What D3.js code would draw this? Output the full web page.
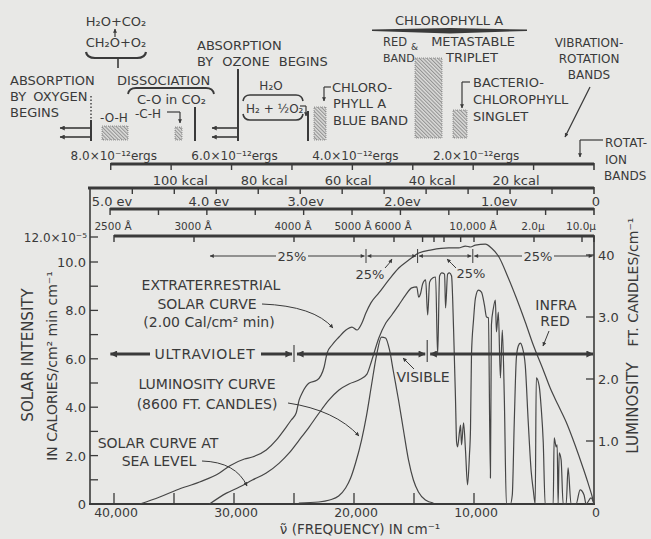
<!DOCTYPE html>
<html><head><meta charset="utf-8">
<script src="https://cdn.jsdelivr.net/npm/d3@7/dist/d3.min.js"></script>
<style>
html,body{margin:0;padding:0;background:#e8e8e6;}
svg{display:block}
text{font-family:"DejaVu Sans",Verdana,sans-serif;fill:#3a3a3a}
</style></head><body>
<svg id="chart" width="651" height="539"></svg>
<script>
// ---------------- DATA ----------------
// Extraterrestrial solar curve: wavenumber (cm^-1) and intensity (10^-5 cal/cm^2 min cm^-1)
const extraNu = [37850,36190,34780,32870,31210,30380,29130,28470,27310,26480,25650,25230,24820,24570,24320,23740,23070,22490,22240,21830,21250,20670,20170,19750,19340,19010,18590,17930,17100,16270,15440,14610,13530,12120,11290,10710,10290,9880,9050,8550,7970,7140,6470,5730,5060,4230,3650,2990,2320,1580,910,500,80,0];
const extraI  = [0,0.29,0.58,0.91,1.28,1.57,1.86,1.94,2.23,2.64,3.18,3.47,3.76,4.30,4.59,5.00,5.12,5.66,6.24,6.57,6.90,7.19,7.31,7.19,7.48,7.89,8.31,8.72,9.26,9.75,10.08,10.37,10.50,10.58,10.58,10.66,10.62,10.70,10.74,10.58,10.25,9.34,8.51,7.52,6.57,5.54,4.79,4.09,3.39,2.44,1.49,0.87,0.17,0];
// Solar curve at sea level
const seaNu = [32040,30630,29550,28470,27310,26230,25400,24570,23740,22910,22080,21250,20420,19590,18920,18510,17930,17350,16850,16270,15690,15190,14770,14610,14440,14280,14030,13860,13700,13450,13200,13030,12870,12700,12450,12370,12200,12040,11870,11700,11540,11450,11370,11210,11120,11040,10870,10710,10540,10380,10290,10210,10040,9880,9630,9380,9130,8960,8800,8630,8550,8380,8220,8130,7970,7800,7640,7470,7300,6970,6810,6640,6470,6310,6140,5980,5730,5480,5230,5060,4900,4810,4570,4400,4230,4070,3400,3320,3150,3070,2990,2900,2740,2570,2320,2160,1910,1490,1160,830,660,250,0];
const seaI  = [0,0.45,0.70,0.99,1.28,1.69,2.11,2.64,3.18,3.76,4.30,4.71,4.96,5.12,5.37,5.95,6.86,7.48,7.81,8.22,8.64,8.93,8.97,8.55,8.72,9.09,9.26,7.81,9.17,9.34,9.38,6.16,9.42,9.55,9.50,8.10,9.50,9.55,9.42,7.19,4.30,2.56,2.36,2.98,3.26,2.44,3.35,2.23,0.79,2.02,3.14,6.16,7.60,8.51,8.84,8.76,8.22,7.73,7.69,1.07,7.40,8.10,8.43,7.11,7.93,5.21,7.19,4.30,0,0,0.37,3.47,6.03,6.53,6.65,6.49,5.74,3.39,1.32,0.58,0,5.21,4.88,3.97,2.56,0,0,2.73,2.36,2.44,0,2.11,1.82,0,0,1.49,0,0,0.58,0.37,0,0.25,0];
// Luminosity curve (ft. candles / cm^-1)
const lumNu = [24600,22940,22030,21280,20700,20280,19870,19370,18950,18540,18120,17710,17370,17040,16710,16290,15880,15460,15050,14630,14050,13380];
const lumV  = [0,0.16,0.48,1.13,2.42,4.03,6.45,10.16,14.19,19.03,23.87,26.77,26.61,24.68,21.13,16.61,11.77,6.94,3.71,1.77,0.48,0];

// Axis ticks and labels
const freqTicks = [40000,35000,30000,25000,20000,15000,10000];
const freqLabelVals = [40000,30000,20000,10000,0];
const freqLabels = ["40,000","30,000","20,000","10,000","0"];
const intensityTicks = [1,2,3,4,5,6,7,8,9,10];
const intensityLabelVals = [0,2,4,6,8,10];
const intensityLabels = ["0","2.0","4.0","6.0","8.0","10.0"];
const lumTicks = [10,20,30,40];
const lumLabels = ["1.0","2.0","3.0","40"];

// Top energy / wavelength scales
const ergsTicks = [8,7,6,5,4,3,2,1];
const ergsLabelVals = [8,6,4,2];
const ergsLabels = ["8.0×10⁻¹²ergs","6.0×10⁻¹²ergs","4.0×10⁻¹²ergs","2.0×10⁻¹²ergs"];
const kcalTicks = [110,100,90,80,70,60,50,40,30,20,10];
const kcalLabelVals = [100,80,60,40,20];
const kcalLabels = ["100 kcal","80 kcal","60 kcal","40 kcal","20 kcal"];
const evTicks = [5,4.5,4,3.5,3,2.5,2,1.5,1,0.5];
const evLabelVals = [5,4,3,2,1,0];
const evLabels = ["5.0 ev","4.0 ev","3.0ev","2.0ev","1.0ev","0"];
const angTicks = [2500,3000,4000,5000,6000,7000,7500,8000,9000,10000,20000,100000];
const angLabelVals = [2500,3000,4000,5000,6000,10000,20000,100000];
const angLabels = ["2500 Å","3000 Å","4000 Å","5000 Å","6000 Å","10,000 Å","2.0μ","10.0μ"];

// Quartiles of solar energy and spectral regions
const quartileBounds = [32000,19000,14700,10100,0];
const regionNames = ["ULTRAVIOLET","VISIBLE","INFRA RED"];
const regionBounds = [40300,25000,13900,0];

// unit conversions to wavenumber
const ergToNu = v => v*5034.1;      // 1e-12 erg -> cm^-1
const kcalToNu = v => v*349.76;     // kcal/mol -> cm^-1
const evToNu = v => v*8065.5;       // eV -> cm^-1
const angToNu = v => 1e8/v;         // Angstrom -> cm^-1

// ---------------- DRAWING ----------------
const BG="#e8e8e6", INK="#3a3a3a", CURVE="#464646";
const svg=d3.select("#chart");
svg.append("rect").attr("width",651).attr("height",539).attr("fill",BG);
const defs=svg.append("defs");
function marker(id,w,h){
  defs.append("marker").attr("id",id).attr("viewBox","0 0 10 10").attr("refX",9.5).attr("refY",5)
    .attr("markerWidth",w).attr("markerHeight",h).attr("markerUnits","userSpaceOnUse")
    .attr("orient","auto-start-reverse")
    .append("path").attr("d","M0,0L10,5L0,10Z").attr("fill",INK);
}
marker("big",11,7); marker("mid",8,5); marker("sm",6,4);
const pat=defs.append("pattern").attr("id","hatch").attr("patternUnits","userSpaceOnUse")
  .attr("width",2.6).attr("height",2.6).attr("patternTransform","rotate(-45)");
pat.append("rect").attr("width",2.6).attr("height",2.6).attr("fill","#dcdcda");
pat.append("line").attr("x1",0.6).attr("y1",0).attr("x2",0.6).attr("y2",2.6).attr("stroke","#6a6a6a").attr("stroke-width",0.7);

const x=d3.scaleLinear().domain([42000,0]).range([90,594]);
const y=d3.scaleLinear().domain([0,10]).range([504,262]);
const yLum=d3.scaleLinear().domain([0,40]).range([503,255]);

function txt(px,py,s,size,anchor){
  return svg.append("text").attr("x",px).attr("y",py).attr("font-size",size||13)
    .attr("text-anchor",anchor||"start").text(s);
}
function seg(x1,y1,x2,y2,w,me,ms){
  const l=svg.append("line").attr("x1",x1).attr("y1",y1).attr("x2",x2).attr("y2",y2)
    .attr("stroke",INK).attr("stroke-width",w||1.3);
  if(me) l.attr("marker-end","url(#"+me+")");
  if(ms) l.attr("marker-start","url(#"+ms+")");
  return l;
}
function pth(d,w,me,ms){
  const p=svg.append("path").attr("d",d).attr("fill","none").attr("stroke",INK).attr("stroke-width",w||1.3);
  if(me) p.attr("marker-end","url(#"+me+")");
  if(ms) p.attr("marker-start","url(#"+ms+")");
  return p;
}
function hatchRect(rx,ry,w,h){
  svg.append("rect").attr("x",rx).attr("y",ry).attr("width",w).attr("height",h)
    .attr("fill","url(#hatch)").attr("stroke","#777").attr("stroke-width",0.7).attr("stroke-dasharray","1,1");
}
function bgRect(rx,ry,w,h){
  svg.append("rect").attr("x",rx).attr("y",ry).attr("width",w).attr("height",h).attr("fill",BG);
}

// ---- top scales ----
function scaleBar(yy,x0,ticks,conv,labelVals,labels,labelY,dx,size){
  seg(x0,yy,594,yy,3);
  ticks.forEach(v=>{const xx=x(conv(v)); seg(xx,yy-1,xx,yy+6,1.4);});
  seg(594,yy-1,594,yy+6,1.6);
  labelVals.forEach((v,i)=>txt(x(conv(v))+dx,labelY,labels[i],size,"middle"));
}
scaleBar(164,x(ergToNu(8)),ergsTicks,ergToNu,ergsLabelVals,ergsLabels,160,3,12);
scaleBar(188,88,kcalTicks,kcalToNu,kcalLabelVals,kcalLabels,185,6,13);
scaleBar(209,x(evToNu(5)),evTicks,evToNu,evLabelVals,evLabels,206,2,13);
scaleBar(236,x(angToNu(2500)),angTicks,angToNu,angLabelVals,angLabels,230,-1,10.5);

// ---- frame and axes ----
seg(90,188,90,504,1.6);
seg(89,504,595,504,1.8);
seg(594,236,594,504,1.6);
intensityTicks.forEach(v=>seg(90,y(v),98,y(v),1.3));
seg(90,237,98,237,1.3);
intensityLabelVals.forEach((v,i)=>txt(86,y(v)+5,intensityLabels[i],13,"end"));
txt(87,242,"12.0×10⁻⁵",12,"end");
freqTicks.forEach(v=>seg(x(v),504,x(v),493,1.3));
freqLabelVals.forEach((v,i)=>txt(x(v)+2,517,freqLabels[i],12.5,"middle"));
lumTicks.forEach(v=>seg(586,yLum(v),594,yLum(v),1.3));
lumTicks.forEach((v,i)=>txt(598,yLum(v)+5,lumLabels[i],13,"start"));

// axis titles
txt(0,0,"SOLAR INTENSITY",15,"middle").attr("transform","translate(33,355) rotate(-90)");
txt(0,0,"IN CALORIES/cm² min cm⁻¹",14,"middle").attr("transform","translate(57,366) rotate(-90)");
txt(0,0,"LUMINOSITY",15,"middle").attr("transform","translate(638,408) rotate(-90)");
txt(0,0,"FT. CANDLES/cm⁻¹",14,"middle").attr("transform","translate(638,282) rotate(-90)");
txt(360,534,"\u03BD\u0303 (FREQUENCY) IN cm⁻¹",13.5,"middle");

// ---- curves ----
const lineI=d3.line().x(d=>x(d[0])).y(d=>y(d[1])).curve(d3.curveMonotoneX);
const lineL=d3.line().x(d=>x(d[0])).y(d=>yLum(d[1])).curve(d3.curveMonotoneX);
const extra=extraNu.map((v,i)=>[v,extraI[i]]);
const sea=seaNu.map((v,i)=>[v,seaI[i]]);
const lum=lumNu.map((v,i)=>[v,lumV[i]]);
[[extra,lineI],[sea,lineI],[lum,lineL]].forEach(([d,g])=>{
  svg.append("path").datum(d).attr("d",g).attr("fill","none").attr("stroke",CURVE).attr("stroke-width",1.2).attr("stroke-linejoin","round");
});

// ---- quartile dimension line ----
const qY=256;
const qx=quartileBounds.map(v=>x(v));
for(let i=0;i<4;i++){
  seg(qx[i]+(i?1.5:0),qY,qx[i+1]-1.5,qY,1,"sm","sm");
}
for(let i=1;i<4;i++) seg(qx[i],qY-7,qx[i],qY+7,1);
bgRect(276,249,32,14); txt(292,261,"25%",13,"middle");
bgRect(522,249,32,14); txt(538,261,"25%",13,"middle");
txt(370,279,"25%",13,"middle"); pth("M385,268 Q389,264 392,259",1,"sm");
txt(471,278,"25%",13,"middle"); pth("M456,268 Q451,263 447,259",1,"sm");

// ---- spectral regions ----
const rY=354;
const rx=regionBounds.map(v=>x(v));
seg(rx[0],rY,rx[1]-2,rY,3.2,"big","big");
seg(rx[1]+3,rY,rx[2]-2,rY,3.2,"big","big");
seg(rx[2]+3,rY,rx[3]-1,rY,3.2,"big","big");
seg(rx[1],rY-9,rx[1],rY+8,1.1);
seg(rx[2],rY-14,rx[2],rY+8,1.1);
bgRect(150,346,111,16); txt(205,359,regionNames[0],14,"middle").attr("letter-spacing",0.8);
txt(423,382,regionNames[1],14,"middle"); pth("M414,369 L403,358",1,"sm");
txt(556,310,"INFRA",14,"middle"); txt(555,326,"RED",14,"middle"); pth("M549,331 L543,346",1,"sm");

// ---- curve labels ----
txt(211,290,"EXTRATERRESTRIAL",14,"middle");
txt(207,309,"SOLAR CURVE",14,"middle");
txt(209,327,"(2.00 Cal/cm² min)",14,"middle");
pth("M262,304 Q314,306 333,328",1,"sm");
txt(207,389,"LUMINOSITY  CURVE",14,"middle");
txt(207,409,"(8600  FT. CANDLES)",14,"middle");
pth("M288,403 Q335,410 359,436",1,"sm");
txt(158,448,"SOLAR CURVE AT",14,"middle");
txt(159,466,"SEA LEVEL",14,"middle");
pth("M202,461 Q236,462 247,486",1,"sm");

// ---- top annotations ----
txt(116,26,"H₂O+CO₂",13,"middle");
seg(115,37,115,29,1.2,"sm");
txt(116,47,"CH₂O+O₂",13,"middle");
pth("M86,52 Q87,58 95,58 L137,58 Q145,58 146,52",2.2);
seg(118,58,118,68,1.6);

txt(10,85,"ABSORPTION",13);
txt(10,101,"BY OXYGEN",13).attr("word-spacing",3);
txt(10,117,"BEGINS",13);
seg(91,96,91,120,1.4).attr("stroke-dasharray","1.5,2");
seg(91,120,91,141,2);
seg(91,128,60,128,1.6,"mid"); seg(91,137,60,137,1.6,"mid");
txt(100,122,"-O-H",12);
hatchRect(102,126,26,14);

txt(117,85,"DISSOCIATION",13);
pth("M128,94 Q129,88 136,88 L206,88 Q213,88 214,94",1.8);
txt(137,104,"C-O in CO₂",13);
txt(135,118,"-C-H",12);
seg(167,112,180,112,1.2); seg(180,112,180,123,1.2,"sm");
hatchRect(175,127,7,13);
seg(195,107,195,141,2);

txt(197,50,"ABSORPTION",13);
txt(197,66,"BY OZONE BEGINS",13).attr("word-spacing",5);
seg(238,69,238,141,2);
seg(238,128,212,128,1.6,"mid"); seg(238,137,212,137,1.6,"mid");

txt(271,90,"H₂O",12,"middle");
pth("M243,101 Q244,95 250,95 L296,95 Q302,95 303,101",1.6);
txt(246,113,"H₂ + ½O₂",12);
seg(300,106,306,106,1.2); seg(306,106,306,116,1.2,"sm");
pth("M243,114 Q244,120 250,120 L296,120 Q302,120 303,114",1.6);
seg(308,111,308,141,2);
hatchRect(314,107,12,33);

seg(331,87,324,87,1.2); seg(324,87,324,101,1.2,"sm");
txt(332,92,"CHLORO-",13);
txt(333,108,"PHYLL A",13);
txt(333,125,"BLUE BAND",13);

txt(449,25,"CHLOROPHYLL A",13,"middle");
svg.append("path").attr("d","M372,29.5 L450,28 L527,29.5 L527,31 L450,33.5 L372,31 Z").attr("fill",INK);
txt(383,46,"RED",11.5); txt(383,62,"BAND",11);
txt(411,50,"&",9);
txt(473,46,"METASTABLE",13,"middle"); txt(472,62,"TRIPLET",13,"middle");
hatchRect(415,58,27,80);

seg(470,82,462,82,1.2); seg(462,82,462,108,1.2,"sm");
txt(473,87,"BACTERIO-",13);
txt(473,104,"CHLOROPHYLL",13);
txt(473,121,"SINGLET",13);
hatchRect(453,110,14,28);

txt(589,47,"VIBRATION-",12,"middle");
txt(589,63,"ROTATION",12,"middle");
txt(589,79,"BANDS",12,"middle");
seg(590,87,565,137,1.2,"sm");

txt(605,147,"ROTAT-",12);
txt(605,164,"ION",12);
txt(604,180,"BANDS",12);
seg(603,140,580,140,1.2); seg(580,140,580,157,1.2,"sm");
</script>
</body></html>
